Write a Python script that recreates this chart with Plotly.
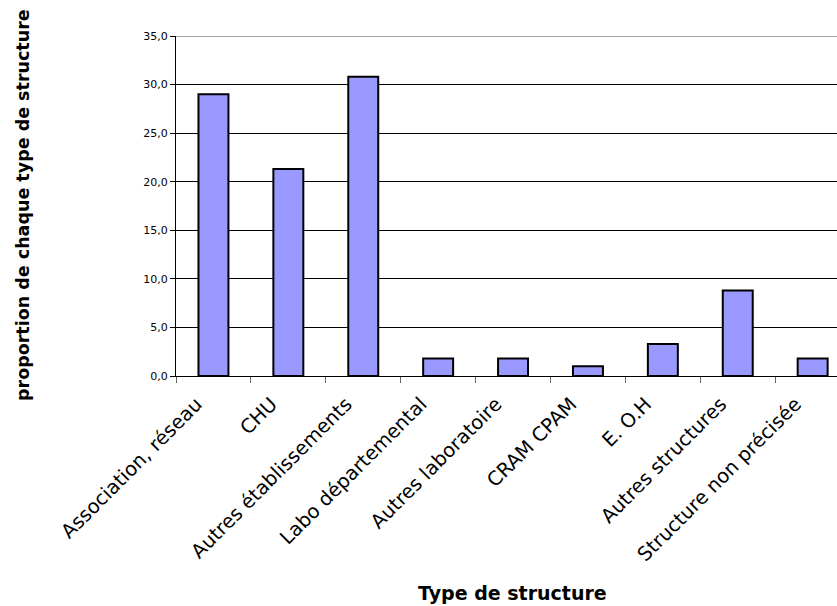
import plotly.graph_objects as go

# Share of each structure type (%)
categories = [
    "Association, réseau",
    "CHU",
    "Autres établissements",
    "Labo départemental",
    "Autres laboratoire",
    "CRAM CPAM",
    "E. O.H",
    "Autres structures",
    "Structure non précisée",
]
values = [29.0, 21.3, 30.8, 1.8, 1.8, 1.0, 3.3, 8.8, 1.8]
y_ticks = [0, 5, 10, 15, 20, 25, 30, 35]

FONT = "DejaVu Sans"

# plot area geometry (px)
LEFT, TOP, BOTTOM = 176, 36, 230
PLOT_W = 837 - LEFT
PLOT_H = 606 - TOP - BOTTOM
CAT_W = 74.9  # width of one category slot; the last slot runs past the right edge

fig = go.Figure(
    go.Bar(
        x=categories,
        y=values,
        width=0.4,
        marker=dict(color="#9999FF", line=dict(color="#000000", width=2)),
    )
)

fig.update_layout(
    width=837,
    height=606,
    margin=dict(l=LEFT, r=0, t=TOP, b=BOTTOM),
    paper_bgcolor="white",
    plot_bgcolor="white",
    separators=", ",
    showlegend=False,
    font=dict(family=FONT, color="black"),
    xaxis=dict(
        type="category",
        range=[-0.5, -0.5 + PLOT_W / CAT_W],
        tickangle=-45,
        tickfont=dict(family=FONT, size=19.5, color="black"),
        ticklabelshift=-17,
        ticklabelstandoff=8,
        showline=True,
        linecolor="black",
        linewidth=1,
        ticks="outside",
        tickson="boundaries",
        ticklen=6,
        tickcolor="#666666",
        showgrid=False,
    ),
    yaxis=dict(
        range=[0, 35],
        tickvals=y_ticks,
        tickformat=".1f",
        tickfont=dict(family=FONT, size=11, color="black"),
        showline=True,
        linecolor="black",
        linewidth=1,
        ticks="outside",
        ticklen=5,
        tickcolor="black",
        showgrid=True,
        gridcolor="#000000",
        gridwidth=1,
        zeroline=False,
    ),
    shapes=[
        # top border of the plot area at 35
        dict(type="line", xref="paper", yref="y", x0=0, x1=1, y0=35, y1=35,
             line=dict(color="#808080", width=1.5)),
    ],
    annotations=[
        dict(
            text="<b>Type de structure</b>",
            xref="paper", yref="paper",
            x=(512 - LEFT) / PLOT_W, y=-(593 - (TOP + PLOT_H)) / PLOT_H,
            xanchor="center", yanchor="middle",
            showarrow=False,
            font=dict(family=FONT, size=19, color="black"),
        ),
        dict(
            text="<b>proportion de chaque type de structure</b>",
            xref="paper", yref="paper",
            x=-(LEFT - 23) / PLOT_W, y=((TOP + PLOT_H) - 205) / PLOT_H,
            xanchor="center", yanchor="middle",
            textangle=-90,
            showarrow=False,
            font=dict(family=FONT, size=17.5, color="black"),
        ),
    ],
)

fig.write_html("out.html")
